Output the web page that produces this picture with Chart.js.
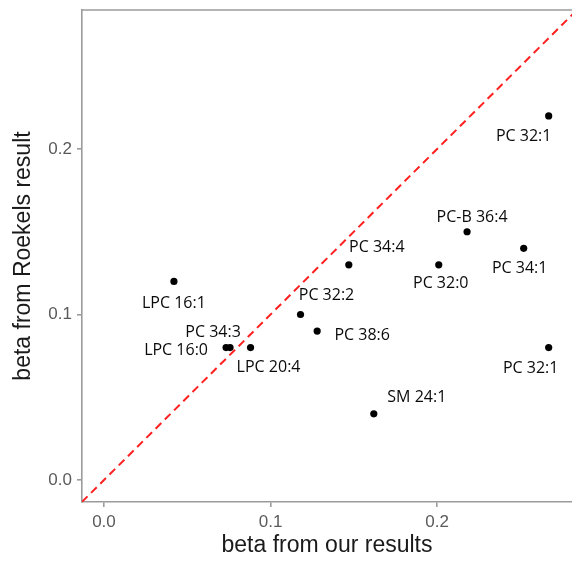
<!DOCTYPE html>
<html>
<head>
<meta charset="utf-8">
<script src="https://cdn.jsdelivr.net/npm/chart.js@4/dist/chart.umd.min.js"></script>
<style>
  html, body { margin: 0; padding: 0; background: #ffffff; }
  #wrap { width: 572px; height: 561px; }
</style>
</head>
<body>
<div id="wrap"><canvas id="c" width="572" height="561"></canvas></div>
<script>
// Lipid species and their effect estimates from the two analyses
const lipidNames = ['PC 32:1', 'PC-B 36:4', 'PC 34:1', 'PC 34:4', 'PC 32:0', 'LPC 16:1',
  'PC 34:3', 'LPC 16:0', 'LPC 20:4', 'PC 32:2', 'PC 38:6', 'SM 24:1', 'PC 32:1'];
const ourBeta = [0.267, 0.218, 0.252, 0.147, 0.201, 0.042,
  0.0757, 0.0733, 0.088, 0.118, 0.128, 0.162, 0.267];
const roekelsBeta = [0.22, 0.15, 0.14, 0.13, 0.13, 0.12,
  0.08, 0.08, 0.08, 0.10, 0.09, 0.04, 0.08];

// Axis ranges and tick values
const xRange = [-0.0132, 0.281];
const yRange = [-0.0133, 0.284];
const xTicks = [0.0, 0.1, 0.2];
const yTicks = [0.0, 0.1, 0.2];

// Pixel nudges that keep each text label clear of its dot
const labelNudge = [[-25, 21], [5, -14], [-4, 20], [28, -17], [2, 19], [0, 22],
  [-17, -15], [-50, 3], [18, 20], [26, -19], [45, 4], [43, -16], [-18, 21]];

const points = ourBeta.map((x, i) => ({ x: x, y: roekelsBeta[i] }));
const lo = Math.min(xRange[0], yRange[0]);
const hi = Math.max(xRange[1], yRange[1]);
const identity = [{ x: lo, y: lo }, { x: hi, y: hi }];

const axisColor = '#9b9b9b';
const tickTextColor = '#5a5a5a';

const pointLabels = {
  id: 'pointLabels',
  afterDatasetsDraw(chart) {
    const meta = chart.getDatasetMeta(1);
    const ctx = chart.ctx;
    ctx.save();
    ctx.font = '16px "Open Sans"';
    ctx.fillStyle = '#0a0a0a';
    ctx.textAlign = 'center';
    ctx.textBaseline = 'middle';
    meta.data.forEach((el, i) => {
      const n = labelNudge[i];
      ctx.fillText(lipidNames[i], el.x + n[0], el.y + n[1]);
    });
    ctx.restore();
  }
};

const topBorder = {
  id: 'topBorder',
  afterDraw(chart) {
    const a = chart.chartArea;
    const ctx = chart.ctx;
    ctx.save();
    ctx.strokeStyle = axisColor;
    ctx.lineWidth = 1.6;
    ctx.beginPath();
    ctx.moveTo(a.left - 0.8, a.top);
    ctx.lineTo(a.right, a.top);
    ctx.stroke();
    ctx.restore();
  }
};

new Chart(document.getElementById('c'), {
  type: 'scatter',
  data: {
    datasets: [
      {
        type: 'line',
        data: identity,
        borderColor: '#ff2020',
        borderWidth: 2,
        borderDash: [8, 5],
        pointRadius: 0,
        fill: false
      },
      {
        data: points,
        backgroundColor: '#000000',
        borderColor: '#000000',
        pointRadius: 3.6,
        borderWidth: 0
      }
    ]
  },
  options: {
    responsive: false,
    animation: false,
    events: [],
    layout: { autoPadding: false, padding: { top: 10, right: 0, left: 0, bottom: 0 } },
    plugins: { legend: { display: false }, tooltip: { enabled: false } },
    scales: {
      x: {
        type: 'linear',
        min: xRange[0],
        max: xRange[1],
        afterBuildTicks(scale) { scale.ticks = xTicks.map(v => ({ value: v })); },
        afterFit(scale) {
          scale.height = 59;
          scale.paddingLeft = 0;
          scale.paddingRight = 0;
        },
        border: { display: true, color: axisColor, width: 1.6 },
        grid: { display: true, drawOnChartArea: false, drawTicks: true, tickLength: 5, color: axisColor, lineWidth: 1.6 },
        ticks: {
          color: tickTextColor,
          font: { family: '"Liberation Sans"', size: 17 },
          padding: 5,
          maxRotation: 0,
          callback: v => v.toFixed(1)
        },
        title: {
          display: true,
          text: 'beta from our results',
          color: '#1a1a1a',
          font: { family: '"Liberation Sans"', size: 23 },
          padding: { top: 0, bottom: 2 }
        }
      },
      y: {
        type: 'linear',
        min: yRange[0],
        max: yRange[1],
        afterBuildTicks(scale) { scale.ticks = yTicks.map(v => ({ value: v })); },
        afterFit(scale) {
          scale.width = 82;
          scale.paddingTop = 0;
          scale.paddingBottom = 0;
        },
        border: { display: true, color: axisColor, width: 1.6 },
        grid: { display: true, drawOnChartArea: false, drawTicks: true, tickLength: 5, color: axisColor, lineWidth: 1.6 },
        ticks: {
          color: tickTextColor,
          font: { family: '"Liberation Sans"', size: 17 },
          padding: 5,
          callback: v => v.toFixed(1)
        },
        title: {
          display: true,
          text: 'beta from Roekels result',
          color: '#1a1a1a',
          font: { family: '"Liberation Sans"', size: 23 },
          padding: { top: 10, bottom: 0 }
        }
      }
    }
  },
  plugins: [pointLabels, topBorder]
});
</script>
</body>
</html>
